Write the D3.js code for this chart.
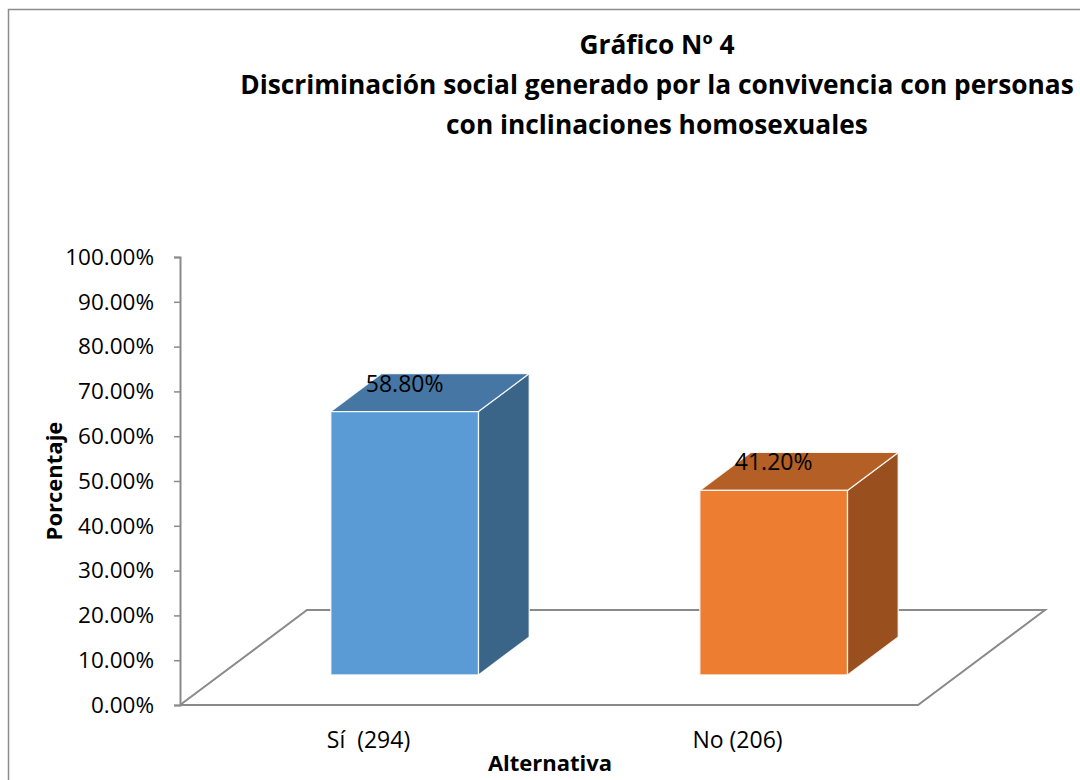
<!DOCTYPE html>
<html>
<head>
<meta charset="utf-8">
<script src="https://cdn.jsdelivr.net/npm/d3@7"></script>
<style>
  body { margin: 0; background: #fff; }
  text { font-family: 'Open Sans', Lato, sans-serif; }
</style>
</head>
<body>
<svg id="chart"></svg>
<script>
// data
const categories = ['Sí  (294)', 'No (206)']
const values = [0.588, 0.412]
const frontColors = ['#5B9BD5', '#ED7D31']
const topColors = ['#4676A3', '#B45F25']
const sideColors = ['#3A6488', '#9A4F1F']
const titleLines = ['Gráfico Nº 4', 'Discriminación social generado por la convivencia con personas', 'con inclinaciones homosexuales']
const yTicks = [0, 0.1, 0.2, 0.3, 0.4, 0.5, 0.6, 0.7, 0.8, 0.9, 1]

const W = 1080
const H = 780

const svg = d3.select('#chart').attr('width', W).attr('height', H)

// chart frame
svg.append('rect')
  .attr('x', 8.5).attr('y', 9.5)
  .attr('width', W + 20).attr('height', H + 20)
  .attr('fill', 'none').attr('stroke', '#8c8c8c').attr('stroke-width', 1.5)

/// Scales////////////////////////////////
const xScale = d3.scaleBand().domain(categories).range([180, 918])
const yScale = d3.scaleLinear().domain([0, 1]).range([705, 257])

// depth vector of the 3d floor
const dx = 127
const dy = 95
const zFront = 0.316
const zBack = 0.716
const barFrac = 0.4

const proj = (x, v, z) => [x + z * dx, yScale(v) - z * dy]

// floor
const x0 = xScale.range()[0]
const x1 = xScale.range()[1]
svg.append('path')
  .attr('d', d3.line()([proj(x0, 0, 0), proj(x1, 0, 0), proj(x1, 0, 1), proj(x0, 0, 1), proj(x0, 0, 0)]))
  .attr('fill', 'none')
  .attr('stroke', '#8a8a8a')
  .attr('stroke-width', 2)

// y axis
const yAxis = svg.append('g')
  .attr('transform', 'translate(' + x0 + ',0)')
  .call(d3.axisLeft(yScale).tickValues(yTicks).tickSize(6).tickPadding(20).tickFormat(d3.format('.2%')))
yAxis.select('.domain').attr('stroke', '#8a8a8a').attr('stroke-width', 2)
yAxis.selectAll('.tick line').attr('stroke', '#8a8a8a').attr('stroke-width', 1.5)
yAxis.selectAll('.tick text')
  .attr('font-size', 22.5).attr('fill', '#000')
  .style('font-family', "'Open Sans', Lato, sans-serif")

// bars
const bars = svg.append('g').selectAll('g').data(categories).enter().append('g')

bars.each(function(c, i) {
  const g = d3.select(this)
  const cx = xScale(c) + xScale.bandwidth() / 2
  const bw = xScale.bandwidth() * barFrac
  const l = cx - bw / 2
  const r = cx + bw / 2
  const v = values[i]
  const line = d3.line()
  // right side
  g.append('path')
    .attr('d', line([proj(r, 0, zFront), proj(r, 0, zBack), proj(r, v, zBack), proj(r, v, zFront)]) + 'Z')
    .attr('fill', sideColors[i])
  // top
  g.append('path')
    .attr('d', line([proj(l, v, zFront), proj(r, v, zFront), proj(r, v, zBack), proj(l, v, zBack)]) + 'Z')
    .attr('fill', topColors[i])
  // front
  g.append('path')
    .attr('d', line([proj(l, 0, zFront), proj(r, 0, zFront), proj(r, v, zFront), proj(l, v, zFront)]) + 'Z')
    .attr('fill', frontColors[i])
  g.selectAll('path')
    .attr('stroke', '#ffffff').attr('stroke-width', 1.3).attr('stroke-opacity', 0.85)
    .attr('stroke-linejoin', 'round')

  // value label
  const p = proj(cx, v, zFront)
  g.append('text')
    .attr('x', p[0]).attr('y', p[1] - 20)
    .attr('text-anchor', 'middle')
    .attr('font-size', 23)
    .attr('fill', '#000')
    .text(d3.format('.2%')(v))
})

// category labels
svg.append('g').selectAll('text').data(categories).enter().append('text')
  .attr('x', d => xScale(d) + xScale.bandwidth() / 2 + 4)
  .attr('y', 748)
  .attr('text-anchor', 'middle')
  .attr('font-size', 23)
  .attr('fill', '#000')
  .style('white-space', 'pre')
  .text(d => d)

// axis titles
svg.append('text')
  .attr('x', 550).attr('y', 771)
  .attr('text-anchor', 'middle')
  .attr('font-size', 22).attr('font-weight', 'bold')
  .text('Alternativa')

svg.append('text')
  .attr('transform', 'translate(62,481) rotate(-90)')
  .attr('text-anchor', 'middle')
  .attr('font-size', 22).attr('font-weight', 'bold')
  .text('Porcentaje')

// title
svg.append('g').selectAll('text').data(titleLines).enter().append('text')
  .attr('x', 657)
  .attr('y', (d, i) => 54 + i * 40)
  .attr('text-anchor', 'middle')
  .attr('font-size', 26.3).attr('font-weight', 'bold')
  .attr('fill', '#000')
  .text(d => d)
</script>
</body>
</html>
